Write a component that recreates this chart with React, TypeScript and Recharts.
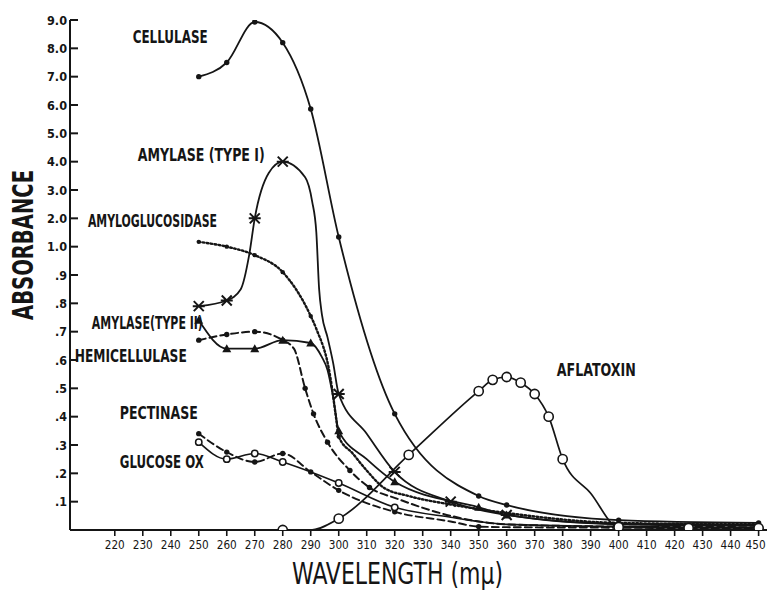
import React from 'react';
import { LineChart, Line, XAxis, YAxis, ReferenceDot } from 'recharts';

// ---------- axis ticks ----------
const wlTicks = [220, 230, 240, 250, 260, 270, 280, 290, 300, 310, 320, 330, 340, 350, 360, 370, 380, 390, 400, 410, 420, 430, 440, 450];
// absorbance axis is piecewise: .1 ... .9 then 1.0 ... 9.0 equally spaced
const absTickValues = [0.1, 0.2, 0.3, 0.4, 0.5, 0.6, 0.7, 0.8, 0.9, 1.0, 2.0, 3.0, 4.0, 5.0, 6.0, 7.0, 8.0, 9.0];
const absTickLabels = ['.1', '.2', '.3', '.4', '.5', '.6', '.7', '.8', '.9', '1.0', '2.0', '3.0', '4.0', '5.0', '6.0', '7.0', '8.0', '9.0'];

// ---------- series (wavelength mμ, absorbance) ----------
const cellulaseWl = [250, 260, 270, 280, 290, 300, 320, 350, 360, 400, 450];
const cellulaseAbs = [7.0, 7.5, 8.93, 8.2, 5.86, 1.34, 0.41, 0.12, 0.088, 0.035, 0.025];
const cellulaseMarked = [250, 260, 270, 280, 290, 300, 320, 350, 360, 400, 450];

const amylaseIWl = [250, 260, 265, 268, 270, 275, 280, 288, 290.5, 292, 293, 294, 296, 298, 300, 310, 320, 340, 360, 400, 450];
const amylaseIAbs = [0.79, 0.81, 0.85, 0.97, 2.0, 3.6, 4.0, 3.45, 2.6, 1.5, 0.85, 0.76, 0.68, 0.59, 0.48, 0.34, 0.205, 0.1, 0.053, 0.022, 0.018];
const amylaseIMarked = [250, 260, 270, 280, 300, 320, 340, 360];

const amyloglucWl = [250, 260, 270, 280, 290, 292, 297, 299, 300, 305, 310, 316, 325, 340, 360, 400, 450];
const amyloglucAbs = [1.17, 1.0, 0.97, 0.91, 0.755, 0.71, 0.54, 0.4, 0.33, 0.27, 0.21, 0.15, 0.12, 0.09, 0.06, 0.025, 0.02];
const amyloglucMarked = [250, 260, 270, 280, 290, 300];

const amylaseIIWl = [250, 260, 270, 280, 290, 294, 296, 298, 300, 310, 320, 350, 360, 400, 450];
const amylaseIIAbs = [0.74, 0.64, 0.64, 0.67, 0.66, 0.61, 0.565, 0.47, 0.35, 0.25, 0.17, 0.08, 0.053, 0.02, 0.015];
const amylaseIIMarked = [250, 260, 270, 280, 290, 300, 320, 350, 360];

const hemicellWl = [250, 260, 270, 280, 284, 288, 291, 296, 304, 311, 321, 340, 360, 400, 450];
const hemicellAbs = [0.67, 0.69, 0.7, 0.67, 0.64, 0.5, 0.41, 0.31, 0.21, 0.15, 0.11, 0.05, 0.02, 0.012, 0.01];
const hemicellMarked = [250, 260, 270, 280, 288, 291, 296, 304, 311];

const pectinaseWl = [250, 260, 270, 280, 290, 300, 320, 340, 350, 360, 400, 450];
const pectinaseAbs = [0.34, 0.275, 0.24, 0.27, 0.205, 0.14, 0.064, 0.03, 0.012, 0.01, 0.008, 0.005];
const pectinaseMarked = [250, 260, 270, 280, 290, 300, 320, 350];

const glucoseWl = [250, 260, 270, 280, 290, 300, 320, 340, 360, 400, 450];
const glucoseAbs = [0.31, 0.25, 0.27, 0.24, 0.205, 0.166, 0.08, 0.045, 0.02, 0.012, 0.008];
const glucoseMarked = [250, 260, 270, 280, 300, 320];

const aflatoxinWl = [280, 290, 300, 325, 350, 355, 360, 365, 370, 375, 380, 390, 400, 425, 450];
const aflatoxinAbs = [0, 0, 0.04, 0.265, 0.49, 0.53, 0.54, 0.52, 0.48, 0.4, 0.25, 0.13, 0.01, 0.007, 0.007];
const aflatoxinMarked = [280, 300, 325, 350, 355, 360, 365, 370, 375, 380, 400, 425, 450];

// ---------- curve labels (anchor: wavelength, absorbance) ----------
const labelTexts = ['CELLULASE', 'AMYLASE (TYPE I)', 'AMYLOGLUCOSIDASE', 'AMYLASE(TYPE II)', 'HEMICELLULASE', 'PECTINASE', 'GLUCOSE OX', 'AFLATOXIN'];
const labelWl = [226.4, 228.2, 210.4, 211.8, 205.7, 221.8, 221.8, 377.9];
const labelAbs = [8.19, 4.02, 1.69, 0.709, 0.593, 0.392, 0.219, 0.544];
const labelWidths = [75, 127, 129, 111, 112, 78, 84, 79];

// ---------- helpers ----------
const toPos = (v: number) => (v <= 1 ? v * 10 : v + 9);
const build = (wl: number[], abs: number[]) => wl.map((w, i) => ({ wl: w, y: toPos(abs[i]) }));

const INK = '#151515';
const FONT = "'Liberation Sans Narrow','DejaVu Sans Condensed','Liberation Sans',Arial,sans-serif";

const makeDot = (kind: string, marked: number[]) => (props: any) => {
  const { cx, cy, payload, index } = props;
  const key = `${kind}-${index}`;
  if (cx == null || cy == null || !marked.includes(payload.wl)) return <g key={key} />;
  switch (kind) {
    case 'dot':
      return <circle key={key} cx={cx} cy={cy} r={2.7} fill={INK} />;
    case 'small':
      return <circle key={key} cx={cx} cy={cy} r={2.2} fill={INK} />;
    case 'star':
      return (
        <path
          key={key}
          d={`M${cx - 5} ${cy - 5}L${cx + 5} ${cy + 5}M${cx - 5} ${cy + 5}L${cx + 5} ${cy - 5}M${cx - 6} ${cy}L${cx + 6} ${cy}`}
          stroke={INK}
          strokeWidth={2}
          fill="none"
        />
      );
    case 'tri':
      return <path key={key} d={`M${cx} ${cy - 4.5}L${cx + 4.5} ${cy + 3.5}L${cx - 4.5} ${cy + 3.5}Z`} fill={INK} />;
    case 'open':
      return <circle key={key} cx={cx} cy={cy} r={3.2} fill="#fff" stroke={INK} strokeWidth={1.5} />;
    case 'openBig':
      return <circle key={key} cx={cx} cy={cy} r={4.6} fill="#fff" stroke={INK} strokeWidth={1.6} />;
    default:
      return <g key={key} />;
  }
};

const YTick = (props: any) => {
  const { x, y, payload } = props;
  const i = absTickValues.findIndex((v) => Math.abs(toPos(v) - payload.value) < 1e-6);
  const label = i >= 0 ? absTickLabels[i] : '';
  return (
    <g>
      <line x1={x} x2={x + 8} y1={y} y2={y} stroke={INK} strokeWidth={2} />
      <text
        x={x - 3}
        y={y}
        dy={4.5}
        textAnchor="end"
        fill={INK}
        fontSize={13}
        fontWeight="bold"
        fontFamily={FONT}
        textLength={label.length === 2 ? 12 : 20}
        lengthAdjust="spacingAndGlyphs"
      >
        {label}
      </text>
    </g>
  );
};

const XTick = (props: any) => {
  const { x, y, payload } = props;
  const last = payload.value === wlTicks[wlTicks.length - 1];
  return (
    <text
      x={last ? x + 7 : x}
      y={y}
      dy={10}
      textAnchor={last ? 'end' : 'middle'}
      fill={INK}
      fontSize={13}
      fontFamily={FONT}
      textLength={20}
      lengthAdjust="spacingAndGlyphs"
    >
      {String(payload.value)}
    </text>
  );
};

const LabelShape = (text: string, width: number) => (props: any) => (
  <text
    x={props.cx}
    y={props.cy}
    fill={INK}
    fontSize={17}
    fontWeight="bold"
    fontFamily={FONT}
    textLength={width}
    lengthAdjust="spacingAndGlyphs"
  >
    {text}
  </text>
);

const series = [
  { name: 'Cellulase', data: build(cellulaseWl, cellulaseAbs), dash: undefined, kind: 'dot', marked: cellulaseMarked, w: 1.8 },
  { name: 'Amylase I', data: build(amylaseIWl, amylaseIAbs), dash: undefined, kind: 'star', marked: amylaseIMarked, w: 1.8 },
  { name: 'Amyloglucosidase', data: build(amyloglucWl, amyloglucAbs), dash: '1.6 2.4', kind: 'small', marked: amyloglucMarked, w: 2.4 },
  { name: 'Amylase II', data: build(amylaseIIWl, amylaseIIAbs), dash: undefined, kind: 'tri', marked: amylaseIIMarked, w: 1.8 },
  { name: 'Hemicellulase', data: build(hemicellWl, hemicellAbs), dash: '7 4', kind: 'dot', marked: hemicellMarked, w: 2 },
  { name: 'Pectinase', data: build(pectinaseWl, pectinaseAbs), dash: '7 4', kind: 'dot', marked: pectinaseMarked, w: 1.9 },
  { name: 'Glucose oxidase', data: build(glucoseWl, glucoseAbs), dash: undefined, kind: 'open', marked: glucoseMarked, w: 1.6 },
  { name: 'Aflatoxin', data: build(aflatoxinWl, aflatoxinAbs), dash: undefined, kind: 'openBig', marked: aflatoxinMarked, w: 1.7 },
];

export default function App() {
  return (
    <div style={{ position: 'absolute', left: 0, top: 0, width: 769, height: 590, background: '#fff' }}>
      <LineChart width={769} height={590} margin={{ top: 20, right: 2, bottom: 0, left: 0 }}>
        <XAxis
          type="number"
          dataKey="wl"
          domain={[204, 453]}
          ticks={wlTicks}
          interval={0}
          allowDataOverflow
          height={60}
          axisLine={{ stroke: INK, strokeWidth: 2 }}
          tickLine={{ stroke: INK, strokeWidth: 1.6 }}
          tickSize={6}
          tickMargin={3}
          tick={<XTick />}
        />
        <YAxis
          type="number"
          domain={[0, 18]}
          ticks={absTickValues.map(toPos)}
          interval={0}
          allowDataOverflow
          width={70}
          axisLine={{ stroke: INK, strokeWidth: 2 }}
          tickLine={false}
          tickSize={0}
          tickMargin={0}
          tick={<YTick />}
        />
        {series.map((s) => (
          <Line
            key={s.name}
            data={s.data}
            dataKey="y"
            name={s.name}
            type="monotone"
            stroke={INK}
            strokeWidth={s.w}
            strokeDasharray={s.dash}
            strokeLinecap="round"
            dot={makeDot(s.kind, s.marked)}
            activeDot={false}
            isAnimationActive={false}
          />
        ))}
        {labelTexts.map((t, i) => (
          <ReferenceDot
            key={t}
            x={labelWl[i]}
            y={toPos(labelAbs[i])}
            r={0}
            shape={LabelShape(t, labelWidths[i])}
            ifOverflow="visible"
          />
        ))}
      </LineChart>
      <svg width={769} height={590} style={{ position: 'absolute', left: 0, top: 0, pointerEvents: 'none' }}>
        <text
          x={33}
          y={245}
          transform="rotate(-90 33 245)"
          textAnchor="middle"
          fontSize={29}
          fontFamily={FONT}
          fontWeight="bold"
          fill={INK}
          textLength={150}
          lengthAdjust="spacingAndGlyphs"
        >
          ABSORBANCE
        </text>
        <text
          x={292}
          y={584}
          fontSize={30}
          fontFamily={FONT}
          fill={INK}
          textLength={211}
          lengthAdjust="spacingAndGlyphs"
        >
          WAVELENGTH (mμ)
        </text>
      </svg>
    </div>
  );
}
